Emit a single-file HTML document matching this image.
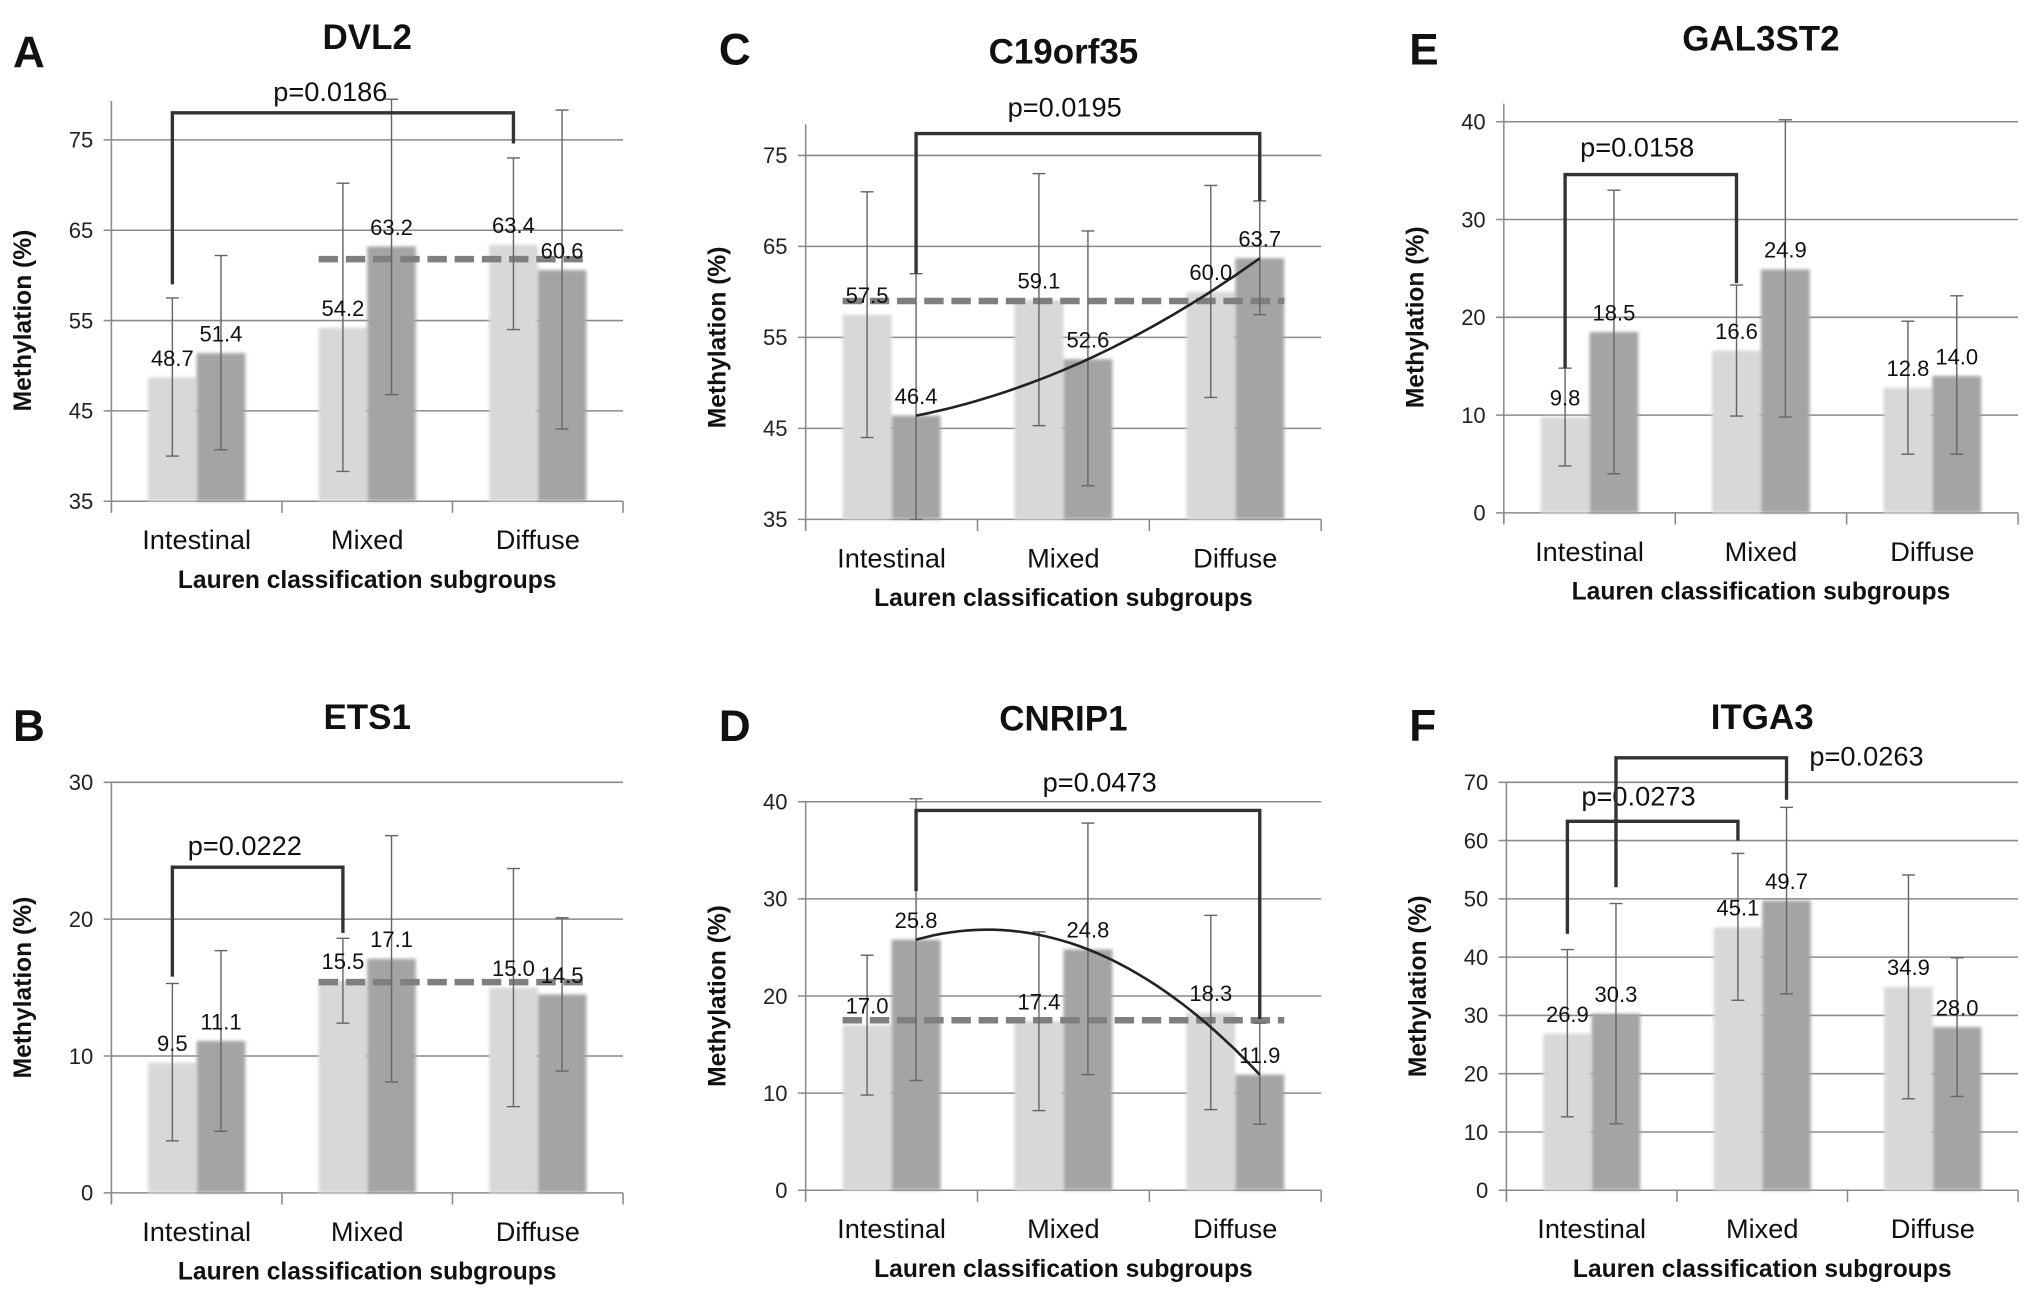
<!DOCTYPE html>
<html><head><meta charset="utf-8"><style>
html,body{margin:0;padding:0;background:#fff}
svg{display:block}
text{font-family:"Liberation Sans","DejaVu Sans",sans-serif}
</style></head><body>
<svg id="fig" xmlns="http://www.w3.org/2000/svg" width="2031" height="1290" viewBox="0 0 1568 996" preserveAspectRatio="none">
<defs><filter id="blur" x="-10%" y="-10%" width="120%" height="120%"><feGaussianBlur stdDeviation="1.2"/></filter></defs>
</svg>
<script>
const categories = ["Intestinal","Mixed","Diffuse"];
// A DVL2
const dvl2Ticks=[35,45,55,65,75];
const dvl2Light=[48.7,54.2,63.4], dvl2Dark=[51.4,63.2,60.6];
const dvl2LightLo=[40,38.3,54], dvl2LightHi=[57.5,70.2,73];
const dvl2DarkLo=[40.7,46.8,43], dvl2DarkHi=[62.2,79.5,78.3];
// B ETS1
const ets1Ticks=[0,10,20,30];
const ets1Light=[9.5,15.5,15.0], ets1Dark=[11.1,17.1,14.5];
const ets1LightLo=[3.8,12.4,6.3], ets1LightHi=[15.3,18.6,23.7];
const ets1DarkLo=[4.5,8.1,8.9], ets1DarkHi=[17.7,26.1,20.1];
// C C19orf35
const c19Ticks=[35,45,55,65,75];
const c19Light=[57.5,59.1,60.0], c19Dark=[46.4,52.6,63.7];
const c19LightLo=[44,45.3,48.4], c19LightHi=[71,73,71.7];
const c19DarkLo=[35,38.7,57.5], c19DarkHi=[62,66.7,70];
// D CNRIP1
const cnrTicks=[0,10,20,30,40];
const cnrLight=[17.0,17.4,18.3], cnrDark=[25.8,24.8,11.9];
const cnrLightLo=[9.8,8.2,8.3], cnrLightHi=[24.2,26.6,28.3];
const cnrDarkLo=[11.3,11.9,6.8], cnrDarkHi=[40.3,37.8,17.2];
// E GAL3ST2
const galTicks=[0,10,20,30,40];
const galLight=[9.8,16.6,12.8], galDark=[18.5,24.9,14.0];
const galLightLo=[4.8,9.9,6], galLightHi=[14.8,23.3,19.6];
const galDarkLo=[4,9.8,6], galDarkHi=[33,40.2,22.2];
// F ITGA3
const itgTicks=[0,10,20,30,40,50,60,70];
const itgLight=[26.9,45.1,34.9], itgDark=[30.3,49.7,28.0];
const itgLightLo=[12.6,32.6,15.7], itgLightHi=[41.3,57.8,54.1];
const itgDarkLo=[11.4,33.7,16.1], itgDarkHi=[49.2,65.7,39.9];

const charts=[
 {id:"dvl2",letter:"A",title:"DVL2",x0:86,x1:481,yb:387,yt:108,axTop:78,titleY:38,letterX:10,letterY:52,
  ticks:dvl2Ticks,light:dvl2Light,dark:dvl2Dark,lLo:dvl2LightLo,lHi:dvl2LightHi,dLo:dvl2DarkLo,dHi:dvl2DarkHi,
  dash:{v:61.8,from:1,to:2},curve:null,
  brackets:[{a:[0,"l"],b:[2,"l"],va:59,vb:74.6,top:78,label:"p=0.0186",lx:255,ly:78}]},
 {id:"ets1",letter:"B",title:"ETS1",x0:86,x1:481,yb:921,yt:604,axTop:604,titleY:563,letterX:10,letterY:572,
  ticks:ets1Ticks,light:ets1Light,dark:ets1Dark,lLo:ets1LightLo,lHi:ets1LightHi,dLo:ets1DarkLo,dHi:ets1DarkHi,
  dash:{v:15.4,from:1,to:2},curve:null,
  brackets:[{a:[0,"l"],b:[1,"l"],va:15.8,vb:19,top:23.8,label:"p=0.0222",lx:189,ly:660}]},
 {id:"c19orf35",letter:"C",title:"C19orf35",x0:622,x1:1020,yb:401,yt:120,axTop:96,titleY:49,letterX:555,letterY:50,
  ticks:c19Ticks,light:c19Light,dark:c19Dark,lLo:c19LightLo,lHi:c19LightHi,dLo:c19DarkLo,dHi:c19DarkHi,
  dash:{v:59,from:0,to:2},curve:"dark",
  brackets:[{a:[0,"d"],b:[2,"d"],va:62,vb:70,top:77.4,label:"p=0.0195",lx:822,ly:90}]},
 {id:"cnrip1",letter:"D",title:"CNRIP1",x0:622,x1:1020,yb:919,yt:619,axTop:619,titleY:564,letterX:555,letterY:572,
  ticks:cnrTicks,light:cnrLight,dark:cnrDark,lLo:cnrLightLo,lHi:cnrLightHi,dLo:cnrDarkLo,dHi:cnrDarkHi,
  dash:{v:17.5,from:0,to:2},curve:"dark",
  brackets:[{a:[0,"d"],b:[2,"d"],va:30.8,vb:17.6,top:39.1,label:"p=0.0473",lx:849,ly:611}]},
 {id:"gal3st2",letter:"E",title:"GAL3ST2",x0:1161,x1:1558,yb:396,yt:94,axTop:80,titleY:39,letterX:1088,letterY:50,
  ticks:galTicks,light:galLight,dark:galDark,lLo:galLightLo,lHi:galLightHi,dLo:galDarkLo,dHi:galDarkHi,
  dash:null,curve:null,
  brackets:[{a:[0,"l"],b:[1,"l"],va:14.8,vb:23.5,top:34.6,label:"p=0.0158",lx:1264,ly:121}]},
 {id:"itga3",letter:"F",title:"ITGA3",x0:1163,x1:1558,yb:919,yt:604,axTop:604,titleY:563,letterX:1088,letterY:572,
  ticks:itgTicks,light:itgLight,dark:itgDark,lLo:itgLightLo,lHi:itgLightHi,dLo:itgDarkLo,dHi:itgDarkHi,
  dash:null,curve:null,
  brackets:[{a:[0,"l"],b:[1,"l"],va:44,vb:60,top:63.3,label:"p=0.0273",lx:1265,ly:622},
            {a:[0,"d"],b:[1,"d"],va:52,vb:67,top:74.2,label:"p=0.0263",lx:1441,ly:591}]}
];
const NS="http://www.w3.org/2000/svg";
const svg=document.getElementById("fig");
function mk(tag,attrs,parent,txt){const e=document.createElementNS(NS,tag);for(const k in attrs)e.setAttribute(k,attrs[k]);if(txt!==undefined)e.textContent=txt;(parent||svg).appendChild(e);return e;}

charts.forEach(c=>{
  const g=mk("g",{});
  
  
  const tMin=c.ticks[0],tMax=c.ticks[c.ticks.length-1];
  const y=v=>c.yb-(v-tMin)/(tMax-tMin)*(c.yb-c.yt);
  const w=(c.x1-c.x0)/3, bw=0.285*w;
  const cx=i=>c.x0+w*(i+0.5);
  const sx=(i,s)=>s==="l"?cx(i)-bw/2:cx(i)+bw/2;
  c.ticks.forEach(t=>{
    const gl=mk("line",{x1:c.x0-6,x2:c.x1,y1:y(t),y2:y(t),stroke:"#8a8a8a","stroke-width":1.2},g);
    
    
    const tl=mk("text",{x:c.x0-14,y:y(t)+6,"text-anchor":"end","font-size":17,fill:"#222"},g,String(t));
    
    
  });
  const ax=mk("line",{x1:c.x0,x2:c.x0,y1:c.axTop,y2:c.yb+8,stroke:"#8a8a8a","stroke-width":1.2},g);
  
  
  for(let i=0;i<=3;i++){
    const tk=mk("line",{x1:c.x0+w*i,x2:c.x0+w*i,y1:c.yb,y2:c.yb+9,stroke:"#8a8a8a","stroke-width":1.2},g);
    
    
  }
  categories.forEach((cat,i)=>{
    [["l",c.light[i],"#d8d8d8"],["d",c.dark[i],"#a4a4a4"]].forEach(([s,v,col])=>{
      const x=s==="l"?cx(i)-bw:cx(i);
      const b=mk("rect",{x:x,y:y(v),width:bw,height:c.yb-y(v),fill:col,filter:"url(#blur)"},g);
      
      
    });
  });
  if(c.dash){
    const d=mk("line",{x1:cx(c.dash.from)-bw,x2:cx(c.dash.to)+bw,y1:y(c.dash.v),y2:y(c.dash.v),stroke:"#7f7f7f","stroke-width":5,"stroke-dasharray":"15 6"},g);
    
    
  }
  categories.forEach((cat,i)=>{
    [["l",c.lLo[i],c.lHi[i]],["d",c.dLo[i],c.dHi[i]]].forEach(([s,lo,hi])=>{
      const x=sx(i,s);
      const eg=mk("g",{stroke:"#666","stroke-width":1.1},g);
      
      
      mk("line",{x1:x,x2:x,y1:y(lo),y2:y(hi)},eg);
      mk("line",{x1:x-5,x2:x+5,y1:y(lo),y2:y(lo)},eg);
      mk("line",{x1:x-5,x2:x+5,y1:y(hi),y2:y(hi)},eg);
    });
  });
  if(c.curve){
    const xs=[0,1,2].map(i=>sx(i,"d")), ys=c.dark.map(v=>y(v));
    let dstr="";
    for(let k=0;k<=40;k++){
      const X=xs[0]+(xs[2]-xs[0])*k/40;
      const L0=(X-xs[1])*(X-xs[2])/((xs[0]-xs[1])*(xs[0]-xs[2]));
      const L1=(X-xs[0])*(X-xs[2])/((xs[1]-xs[0])*(xs[1]-xs[2]));
      const L2=(X-xs[0])*(X-xs[1])/((xs[2]-xs[0])*(xs[2]-xs[1]));
      const Y=ys[0]*L0+ys[1]*L1+ys[2]*L2;
      dstr+=(k?"L":"M")+X.toFixed(1)+","+Y.toFixed(1);
    }
    const p=mk("path",{d:dstr,fill:"none",stroke:"#222","stroke-width":2},g);
    
    
  }
  categories.forEach((cat,i)=>{
    [["l",c.light[i]],["d",c.dark[i]]].forEach(([s,v])=>{
      const t=mk("text",{x:sx(i,s),y:y(v)-9,"text-anchor":"middle","font-size":17,fill:"#111"},g,v.toFixed(1));
      
      
    });
    const cl=mk("text",{x:cx(i),y:c.yb+37,"text-anchor":"middle","font-size":21,fill:"#111"},g,cat);
    
    
  });
  c.brackets.forEach(br=>{
    const xa=sx(br.a[0],br.a[1]), xb=sx(br.b[0],br.b[1]);
    const p=mk("path",{d:`M${xa},${y(br.va)}V${y(br.top)}H${xb}V${y(br.vb)}`,fill:"none",stroke:"#333","stroke-width":2.6},g);
    
    
    const t=mk("text",{x:br.lx,y:br.ly,"text-anchor":"middle","font-size":21,fill:"#111"},g,br.label);
    
    
  });
  const xt=mk("text",{x:(c.x0+c.x1)/2,y:c.yb+67,"text-anchor":"middle","font-size":19,"font-weight":"bold",fill:"#111"},g,"Lauren classification subgroups");
  
  
  const ym=(c.yb+c.yt)/2, yx=c.x0-62;
  const yt=mk("text",{x:yx,y:ym,"text-anchor":"middle","font-size":19,"font-weight":"bold",fill:"#111",transform:`rotate(-90 ${yx} ${ym})`},g,"Methylation (%)");
  
  
  const tt=mk("text",{x:(c.x0+c.x1)/2,y:c.titleY,"text-anchor":"middle","font-size":27,"font-weight":"bold",fill:"#111"},g,c.title);
  
  
  const pl=mk("text",{x:c.letterX,y:c.letterY,"font-size":34,"font-weight":"bold",fill:"#111"},g,c.letter);
  
  
});
</script>
</body></html>
